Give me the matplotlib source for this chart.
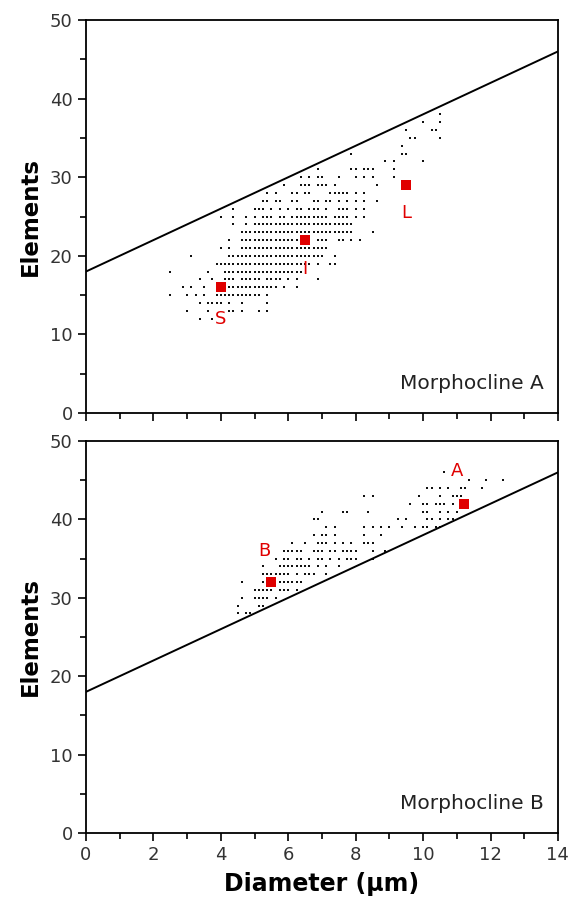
import numpy as np
import matplotlib
matplotlib.use("Agg")
import matplotlib.pyplot as plt
from matplotlib.ticker import MultipleLocator

# grid of the dot maps: x = x0 + step * index, one row per element count
x0 = 2.5
step = 0.125

# Morphocline A: element count -> grid indices of the small dots
rows_a = {
    38: [64],
    37: [60, 64],
    36: [56, 62, 63],
    35: [57, 58, 64],
    34: [55],
    33: [43, 55, 56],
    32: [51, 53, 60],
    31: [35, 43, 44, 46, 47, 48, 53],
    30: [31, 33, 35, 36, 40, 44, 46, 48, 53],
    29: [27, 31, 32, 33, 35, 36, 37, 39, 49],
    28: [23, 25, 29, 30, 32, 33, 38, 39, 40, 41, 42, 44, 46],
    27: [22, 23, 25, 26, 29, 30, 34, 35, 37, 38, 40, 42, 44, 46, 49],
    26: [15, 20, 21, 22, 24, 26, 28, 30, 31, 33, 34, 35, 37, 40, 41, 42, 44, 46],
    25: [12, 15, 18, 20, 22, 23, 24, 26, 27, 29, 30, 31, 32, 33, 34, 35, 36,
         37, 39, 40, 41, 42, 44, 46],
    24: [15, 18, 20, 21, 22, 23, 24, 25, 26, 27, 28, 29, 30, 31, 32, 33, 34,
         35, 36, 37, 38, 39, 40, 41, 42, 43],
    23: [17, 18, 19, 20, 21, 22, 23, 24, 25, 26, 27, 28, 29, 30, 31, 32, 33,
         34, 35, 36, 37, 38, 39, 40, 41, 42, 43, 48],
    22: [14, 17, 18, 19, 20, 21, 22, 23, 24, 25, 26, 27, 28, 29, 30, 35, 36,
         37, 40, 41, 43, 45],
    21: [12, 14, 17, 18, 19, 20, 21, 22, 23, 24, 25, 26, 27, 28, 29, 30, 31,
         32, 33, 34, 35, 36, 37],
    20: [5, 14, 15, 16, 17, 18, 19, 20, 21, 22, 23, 24, 25, 26, 27, 28, 29,
         30, 31, 32, 33, 34, 35, 36, 39],
    19: [11, 12, 13, 14, 15, 16, 17, 18, 19, 20, 21, 22, 23, 24, 25, 26, 27,
         28, 29, 30, 31, 32, 33, 35, 38, 39],
    18: [0, 9, 13, 14, 15, 16, 17, 18, 19, 20, 21, 22, 23, 24, 25, 26, 27,
         28, 29, 30, 31],
    17: [7, 10, 13, 14, 15, 17, 18, 19, 20, 21, 23, 24, 25, 26, 28, 30, 35],
    16: [3, 5, 8, 14, 15, 16, 17, 18, 19, 20, 21, 22, 23, 24, 25, 27, 30],
    15: [0, 4, 6, 8, 11, 12, 13, 14, 15, 16, 17, 18, 19, 20, 21, 23],
    14: [7, 9, 10, 11, 12, 14, 17, 23],
    13: [4, 9, 14, 15, 17, 21, 23],
    12: [7, 10],
}

# Morphocline B
rows_b = {
    46: [65],
    45: [71, 75, 79],
    44: [61, 62, 64, 66, 69, 70, 74],
    43: [46, 48, 59, 64, 67, 68, 69],
    42: [57, 60, 61, 63, 64, 65, 67],
    41: [36, 41, 42, 47, 60, 61, 64, 66, 68],
    40: [34, 35, 54, 56, 61, 62, 64, 66, 67],
    39: [37, 39, 46, 48, 50, 52, 55, 58, 60, 61, 63, 64],
    38: [34, 36, 37, 39, 46, 50],
    37: [29, 32, 35, 36, 37, 39, 41, 43, 46, 47, 48],
    36: [27, 28, 29, 30, 31, 34, 35, 36, 38, 39, 41, 42, 43, 44, 48, 51],
    35: [25, 27, 28, 30, 31, 33, 35, 36, 38, 40, 42, 43, 44, 48],
    34: [22, 26, 27, 28, 29, 30, 31, 32, 33, 35, 37, 40],
    33: [22, 23, 24, 25, 26, 27, 28, 30, 32, 33, 34, 37],
    32: [17, 22, 23, 26, 27, 28, 29, 30, 31],
    31: [20, 21, 22, 23, 24, 26, 27, 28, 30],
    30: [17, 20, 21, 22, 23, 25],
    29: [16, 21, 22],
    28: [16, 18, 19],
}

# boundary line
line_x = [0, 14]
line_y = [18, 46]

# labelled species (red squares)
pts_a = {"S": (4.0, 16), "I": (6.5, 22), "L": (9.5, 29)}
lab_a = {"S": (4.0, 12.0), "I": (6.5, 18.3), "L": (9.5, 25.5)}
pts_b = {"B": (5.5, 32), "A": (11.2, 42)}
lab_b = {"B": (5.3, 36.0), "A": (11.0, 46.2)}

RED = "#e00000"


def dots(rows):
    xs, ys = [], []
    for y, idx in rows.items():
        for i in idx:
            xs.append(x0 + step * i)
            ys.append(y)
    return np.array(xs), np.array(ys)


def style_axes(ax, xlabels=True):
    ax.set_xlim(0, 14)
    ax.set_ylim(0, 50)
    ax.xaxis.set_major_locator(MultipleLocator(2))
    ax.xaxis.set_minor_locator(MultipleLocator(1))
    ax.yaxis.set_major_locator(MultipleLocator(10))
    ax.yaxis.set_minor_locator(MultipleLocator(5))
    ax.tick_params(which="major", direction="out", length=6, width=1.2,
                   labelsize=13, colors="black", labelcolor="#333333")
    ax.tick_params(which="minor", direction="out", length=4, width=1.2)
    if not xlabels:
        ax.tick_params(axis="x", labelbottom=False)
    for s in ax.spines.values():
        s.set_linewidth(1.3)
    ax.set_ylabel("Elements", fontsize=16.5, fontweight="bold", labelpad=6)


fig = plt.figure(figsize=(5.73, 9.05), dpi=100)
ax1 = fig.add_axes([0.150, 0.5436, 0.8237, 0.4343])
ax2 = fig.add_axes([0.150, 0.0796, 0.8237, 0.4331])

for ax, rows, pts, labs, name in [
    (ax1, rows_a, pts_a, lab_a, "Morphocline A"),
    (ax2, rows_b, pts_b, lab_b, "Morphocline B"),
]:
    xs, ys = dots(rows)
    ax.plot(xs, ys, "s", color="#111111", ms=1.6, mew=0, ls="none")
    ax.plot(line_x, line_y, color="black", lw=1.4)
    for k, (px, py) in pts.items():
        ax.plot(px, py, "s", color=RED, ms=7, mew=0)
        lx, ly = labs[k]
        ax.text(lx, ly, k, color=RED, fontsize=13, ha="center", va="center")
    ax.text(0.97, 0.075, name, transform=ax.transAxes, ha="right",
            va="center", fontsize=14.5, color="#222222")

style_axes(ax1, xlabels=False)
style_axes(ax2)
ax2.set_xlabel("Diameter (\u00b5m)", fontsize=17, fontweight="bold", labelpad=6)

fig.savefig("out.png", dpi=100)
